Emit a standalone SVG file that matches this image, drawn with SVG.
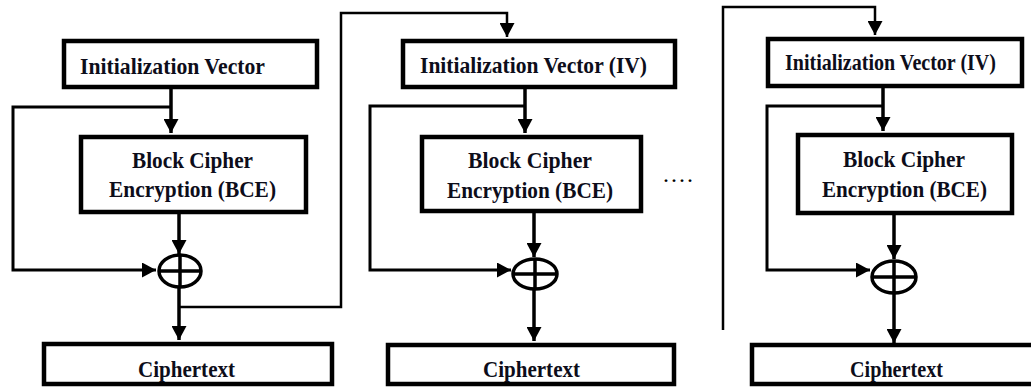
<svg xmlns="http://www.w3.org/2000/svg" width="1031" height="388" viewBox="0 0 1031 388">
<style>
.box{fill:#fff;stroke:#000;stroke-width:4.5}
.t{font-family:"Liberation Serif","Times New Roman",serif;font-weight:bold;font-size:21.5px;fill:#0d0d1a}
.main{fill:none;stroke:#000;stroke-width:3.5}
.br{fill:none;stroke:#000;stroke-width:3}
.fb{fill:none;stroke:#000;stroke-width:2.5}
.xor{fill:#fff;stroke:#000;stroke-width:3.5}
</style>
<defs>
<marker id="ah" markerUnits="userSpaceOnUse" markerWidth="15" markerHeight="15" refX="14" refY="7.5" orient="auto">
<path d="M0,0 L14,7.5 L0,15 z" fill="#000"/>
</marker>
<clipPath id="c1"><rect x="46" y="346" width="284" height="36"/></clipPath>
<clipPath id="c2"><rect x="390" y="347" width="282" height="35"/></clipPath>
<clipPath id="c3"><rect x="754" y="347" width="274" height="35"/></clipPath>
</defs>
<g id="connectors">
<path class="main" d="M171,89 V133" marker-end="url(#ah)"/>
<path class="br" d="M171,107 H13 V270 H156" marker-end="url(#ah)"/>
<path class="main" d="M179,213 V254" marker-end="url(#ah)"/>
<path class="main" d="M179,287 V340" marker-end="url(#ah)"/>
<path class="fb" d="M179,307 H341 V13 H507 V37" marker-end="url(#ah)"/>
<path class="main" d="M525,89 V133" marker-end="url(#ah)"/>
<path class="br" d="M525,106 H370 V270 H511" marker-end="url(#ah)"/>
<path class="main" d="M534,213 V257" marker-end="url(#ah)"/>
<path class="main" d="M534,289 V341" marker-end="url(#ah)"/>
<path class="fb" d="M723,330 V7 H875 V35" marker-end="url(#ah)"/>
<path class="main" d="M883,88 V131" marker-end="url(#ah)"/>
<path class="br" d="M883,106 H767 V270 H870" marker-end="url(#ah)"/>
<path class="main" d="M894,215 V259" marker-end="url(#ah)"/>
<path class="main" d="M894,293 V343" marker-end="url(#ah)"/>
</g>
<g id="iv1"><rect class="box" x="64" y="41" width="253" height="46"/><text class="t" transform="translate(80,74) scale(1,1.12)" textLength="185" lengthAdjust="spacingAndGlyphs">Initialization Vector</text></g>
<g id="bce1"><rect class="box" x="81" y="137" width="225" height="75"/><text class="t" transform="translate(132,168) scale(1,1.12)" textLength="121" lengthAdjust="spacingAndGlyphs">Block Cipher</text><text class="t" transform="translate(109,197) scale(1,1.12)" textLength="167" lengthAdjust="spacingAndGlyphs">Encryption (BCE)</text></g>
<g id="xor1"><ellipse class="xor" cx="180" cy="271" rx="21" ry="16"/><path class="main" d="M159,271 H201 M180,255 V287"/></g>
<g id="ct1"><rect class="box" x="44" y="344" width="288" height="40"/><g clip-path="url(#c1)"><text class="t" transform="translate(138,377) scale(1,1.12)" textLength="97" lengthAdjust="spacingAndGlyphs">Ciphertext</text></g></g>
<g id="iv2"><rect class="box" x="403" y="41" width="272" height="46"/><text class="t" transform="translate(420,73) scale(1,1.12)" textLength="227" lengthAdjust="spacingAndGlyphs">Initialization Vector (IV)</text></g>
<g id="bce2"><rect class="box" x="422" y="137" width="219" height="74"/><text class="t" transform="translate(468,168) scale(1,1.12)" textLength="124" lengthAdjust="spacingAndGlyphs">Block Cipher</text><text class="t" transform="translate(447,198) scale(1,1.12)" textLength="166" lengthAdjust="spacingAndGlyphs">Encryption (BCE)</text></g>
<g id="xor2"><ellipse class="xor" cx="535" cy="274" rx="22" ry="15"/><path class="main" d="M513,274 H557 M535,259 V289"/></g>
<g id="ct2"><rect class="box" x="388" y="345" width="286" height="39"/><g clip-path="url(#c2)"><text class="t" transform="translate(483,377) scale(1,1.12)" textLength="97" lengthAdjust="spacingAndGlyphs">Ciphertext</text></g></g>
<g id="dots"><text x="663" y="182" style="font-family:'Liberation Serif',serif;font-size:24px;letter-spacing:2px;fill:#000">....</text></g>
<g id="iv3"><rect class="box" x="768" y="39" width="254" height="47"/><text class="t" transform="translate(785,70) scale(1,1.12)" textLength="211" lengthAdjust="spacingAndGlyphs">Initialization Vector (IV)</text></g>
<g id="bce3"><rect class="box" x="798" y="135" width="214" height="78"/><text class="t" transform="translate(843,167) scale(1,1.12)" textLength="122" lengthAdjust="spacingAndGlyphs">Block Cipher</text><text class="t" transform="translate(822,197) scale(1,1.12)" textLength="165" lengthAdjust="spacingAndGlyphs">Encryption (BCE)</text></g>
<g id="xor3"><ellipse class="xor" cx="894" cy="277" rx="22" ry="16"/><path class="main" d="M872,277 H916 M894,261 V293"/></g>
<g id="ct3"><rect class="box" x="752" y="345" width="290" height="39"/><g clip-path="url(#c3)"><text class="t" transform="translate(850,377) scale(1,1.12)" textLength="93" lengthAdjust="spacingAndGlyphs">Ciphertext</text></g></g>
</svg>
